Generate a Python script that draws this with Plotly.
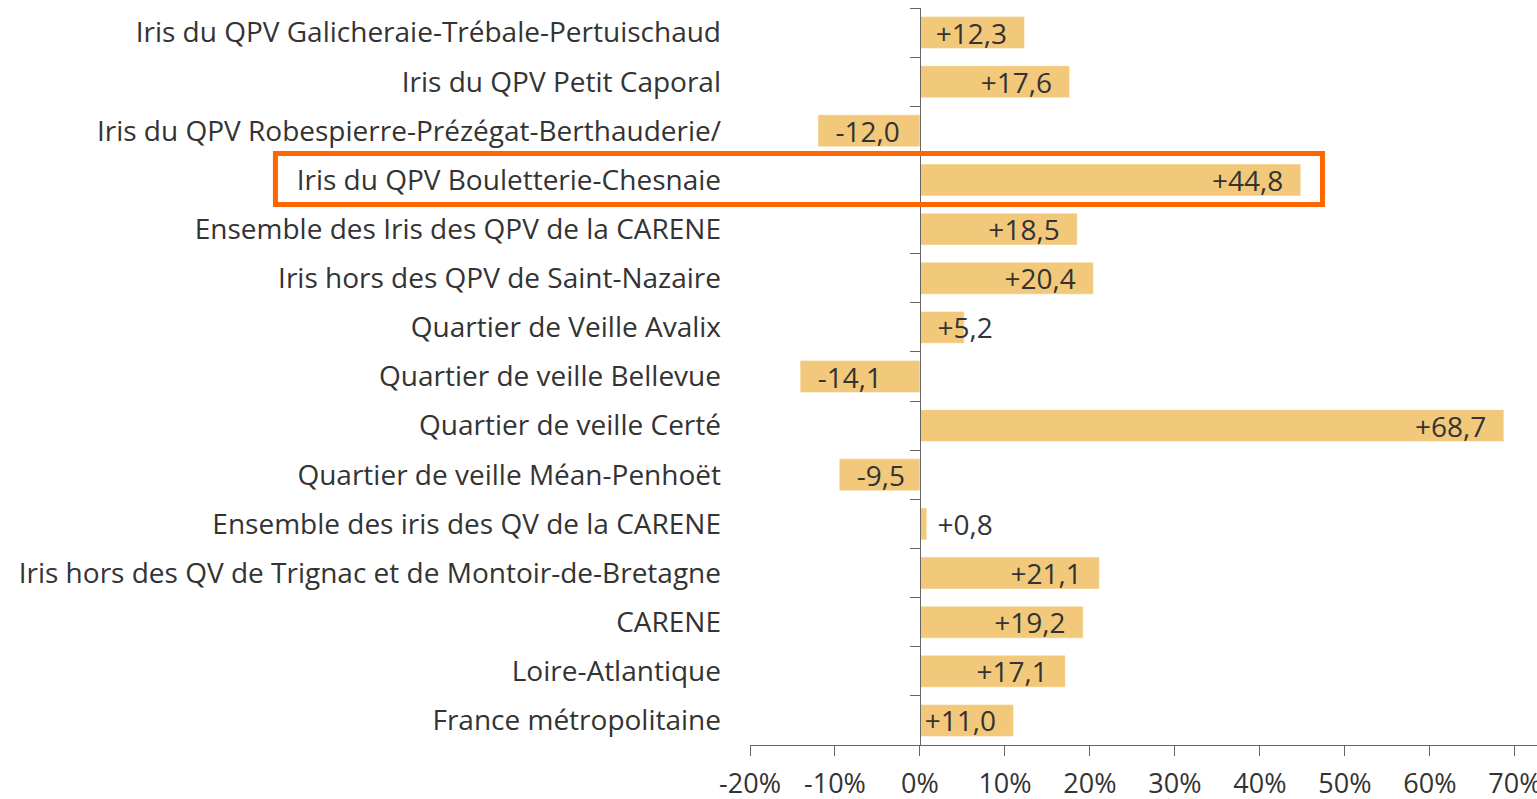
import plotly.graph_objects as go

categories = [
    "Iris du QPV Galicheraie-Trébale-Pertuischaud",
    "Iris du QPV Petit Caporal",
    "Iris du QPV Robespierre-Prézégat-Berthauderie/",
    "Iris du QPV Bouletterie-Chesnaie",
    "Ensemble des Iris des QPV de la CARENE",
    "Iris hors des QPV de Saint-Nazaire",
    "Quartier de Veille Avalix",
    "Quartier de veille Bellevue",
    "Quartier de veille Certé",
    "Quartier de veille Méan-Penhoët",
    "Ensemble des iris des QV de la CARENE",
    "Iris hors des QV de Trignac et de Montoir-de-Bretagne",
    "CARENE",
    "Loire-Atlantique",
    "France métropolitaine",
]
values = [12.3, 17.6, -12.0, 44.8, 18.5, 20.4, 5.2, -14.1, 68.7, -9.5, 0.8, 21.1, 19.2, 17.1, 11.0]
highlight = "Iris du QPV Bouletterie-Chesnaie"

x_tickvals = [-20, -10, 0, 10, 20, 30, 40, 50, 60, 70]
x_ticktext = ["-20%", "-10%", "0%", "10%", "20%", "30%", "40%", "50%", "60%", "70%"]

X_RANGE = [-20, 72.6]
FONT = "Open Sans"
FS = 28
TXT = "#333333"
BAR = "#F2C97A"
AX = "#666666"
NB = "\u00a0"

labels = [f"{v:+.1f}".replace(".", ",") for v in values]
small = [abs(v) < 8 for v in values]

big_x = [None if s else v for v, s in zip(values, small)]
big_t = [("" if s else ((l + NB * 2) if v > 0 else (NB * 2 + l))) for v, l, s in zip(values, labels, small)]
small_x = [v if s else None for v, s in zip(values, small)]
small_t = [(NB * 2 + l) if s else "" for l, s in zip(labels, small)]

fig = go.Figure()
common = dict(
    y=categories, orientation="h",
    marker=dict(color=BAR, line=dict(color="rgba(255,255,255,0.45)", width=1)),
    textposition="inside", textangle=0, constraintext="none",
    insidetextfont=dict(family=FONT, size=FS, color=TXT),
    outsidetextfont=dict(family=FONT, size=FS, color=TXT),
    hoverinfo="skip", showlegend=False, cliponaxis=False,
)
fig.add_trace(go.Bar(x=big_x, text=big_t, insidetextanchor="end", **common))
fig.add_trace(go.Bar(x=small_x, text=small_t, insidetextanchor="start", **common))
# helper trace to give the zero-line axis its categories
fig.add_trace(go.Scatter(x=[0] * len(values), y=categories, yaxis="y2", mode="markers",
                         marker=dict(opacity=0), hoverinfo="skip", showlegend=False))

n = len(categories)
zero_pos = (0 - X_RANGE[0]) / (X_RANGE[1] - X_RANGE[0])

fig.update_layout(
    width=1537, height=799,
    margin=dict(l=750, r=0, t=8, b=54),
    paper_bgcolor="white", plot_bgcolor="white",
    barmode="overlay", bargap=0.35,
    font=dict(family=FONT, size=FS, color=TXT),
    xaxis=dict(range=X_RANGE, tickvals=x_tickvals, ticktext=x_ticktext, automargin=False,
               showgrid=False, zeroline=False, showline=True, linecolor=AX, linewidth=1,
               ticks="outside", ticklen=10, tickcolor=AX, tickwidth=1,
               ticklabelstandoff=5, ticklabeloverflow="allow",
               tickfont=dict(family=FONT, size=27, color=TXT)),
    yaxis=dict(type="category", categoryorder="array", categoryarray=categories,
               range=[n - 0.5, -0.5], showgrid=False, zeroline=False, showline=False,
               ticks="", ticklabelstandoff=28, automargin=False,
               tickfont=dict(family=FONT, size=FS, color=TXT)),
    yaxis2=dict(type="category", categoryorder="array", categoryarray=categories,
                range=[n - 0.5, -0.5], overlaying="y", anchor="free", position=zero_pos,
                side="left", showgrid=False, zeroline=False, showline=True, linecolor=AX,
                linewidth=1, ticks="outside", tickson="boundaries", ticklen=10,
                tickcolor=AX, showticklabels=False, automargin=False),
)

hi = categories.index(highlight)
fig.add_shape(type="rect", xref="paper", yref="paper",
              x0=-0.603, x1=0.7274,
              y0=1 - (hi + 1) / n, y1=1 - (hi - 0.04) / n,
              line=dict(color="#FF6600", width=5), fillcolor="rgba(0,0,0,0)")

fig.write_html(
    "out.html", config={"displayModeBar": False},
    post_script=(
        "document.body.style.margin='0';"
        "document.body.style.overflow='hidden';"
    ),
)
